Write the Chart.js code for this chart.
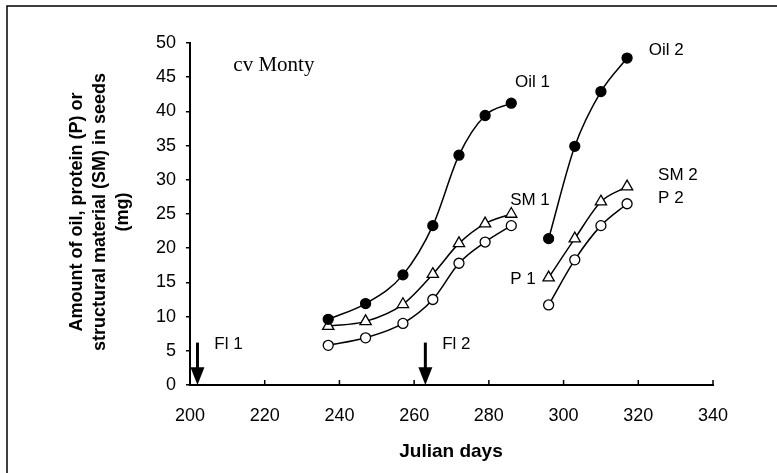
<!DOCTYPE html>
<html>
<head>
<meta charset="utf-8">
<script src="https://cdn.jsdelivr.net/npm/chart.js@4"></script>
<style>
  body { margin: 0; background: #fff; }
</style>
</head>
<body>
<canvas id="seedChart" width="777" height="473"></canvas>
<script>
// first sowing / second sowing sample days
const days1 = [237, 247, 257, 265, 272, 279, 286]
const oil1 = [9.6, 11.9, 16.1, 23.3, 33.6, 39.4, 41.2]
const sm1 = [8.6, 9.3, 11.8, 16.2, 20.7, 23.6, 25.0]
const p1 = [5.8, 6.9, 9.0, 12.5, 17.8, 20.9, 23.3]

const days2 = [296, 303, 310, 317]
const oil2 = [21.4, 34.9, 42.9, 47.8]
const sm2 = [15.7, 21.4, 26.8, 29.0]
const p2 = [11.7, 18.3, 23.3, 26.5]

const xTicks = [200, 220, 240, 260, 280, 300, 320, 340]
const yTicks = [0, 5, 10, 15, 20, 25, 30, 35, 40, 45, 50]

// flowering dates (arrows)
const flowerNames = ["Fl 1", "Fl 2"]
const flowerDays = [202, 263]

// series labels, placed in data units
const labelTexts = ["Oil 1", "Oil 2", "SM 1", "SM 2", "P 2", "P 1"]
const labelX = [287, 322.8, 285.7, 325.3, 325.3, 285.7]
const labelY = [44.2, 49.0, 27.0, 30.7, 27.3, 15.4]

function pts(xs, ys) {
    return xs.map((x, i) => ({ x: x, y: ys[i] }))
}

function series(data, kind) {
    const filled = kind === "oil"
    return {
        data: data,
        borderColor: "#000",
        borderWidth: 1.5,
        cubicInterpolationMode: "monotone",
        pointStyle: kind === "sm" ? "triangle" : "circle",
        pointRadius: kind === "sm" ? 6.5 : 5,
        pointBorderWidth: 1.3,
        pointBorderColor: "#000",
        pointBackgroundColor: filled ? "#000" : "#fff",
        fill: false
    }
}

const extras = {
    id: "extras",
    beforeDraw(chart) {
        const c = chart.ctx
        c.save()
        c.fillStyle = "#fff"
        c.fillRect(0, 0, chart.width, chart.height)
        // frame (only top and left show in the picture)
        c.strokeStyle = "#000"
        c.lineWidth = 1.5
        c.beginPath()
        c.moveTo(7, 473)
        c.lineTo(7, 6)
        c.lineTo(777, 6)
        c.stroke()
        c.restore()
    },
    afterDraw(chart) {
        const c = chart.ctx
        const xs = chart.scales.x
        const ys = chart.scales.y
        c.save()
        c.fillStyle = "#000"
        c.strokeStyle = "#000"

        // inward ticks on x axis
        c.lineWidth = 1.5
        xTicks.forEach(v => {
            const px = xs.getPixelForValue(v)
            c.beginPath()
            c.moveTo(px, ys.bottom)
            c.lineTo(px, ys.bottom - 5)
            c.stroke()
        })

        // arrows
        flowerDays.forEach(d => {
            const px = xs.getPixelForValue(d)
            const top = ys.getPixelForValue(6.2)
            const headTop = ys.getPixelForValue(2.6)
            const tip = ys.getPixelForValue(0)
            c.lineWidth = 3
            c.beginPath()
            c.moveTo(px, top)
            c.lineTo(px, headTop + 2)
            c.stroke()
            c.beginPath()
            c.moveTo(px - 7, headTop)
            c.lineTo(px + 7, headTop)
            c.lineTo(px, tip)
            c.closePath()
            c.fill()
        })

        c.font = "17px 'Liberation Sans', Arial, sans-serif"
        c.textBaseline = "middle"
        c.textAlign = "left"
        labelTexts.forEach((t, i) => {
            c.fillText(t, xs.getPixelForValue(labelX[i]), ys.getPixelForValue(labelY[i]))
        })
        flowerNames.forEach((t, i) => {
            c.fillText(t, xs.getPixelForValue(flowerDays[i] + 4.5), ys.getPixelForValue(6.0))
        })

        c.font = "21px 'Liberation Serif', 'Times New Roman', serif"
        c.fillText("cv Monty", xs.getPixelForValue(211.6), ys.getPixelForValue(46.7))

        // axis titles
        c.font = "bold 19px 'Liberation Sans', Arial, sans-serif"
        c.textAlign = "center"
        c.fillText("Julian days", 451, 452)
        c.font = "bold 18px 'Liberation Sans', Arial, sans-serif"
        c.translate(100, 212)
        c.rotate(-Math.PI / 2)
        c.fillText("Amount of oil, protein (P) or", 0, -23)
        c.fillText("structural material (SM) in seeds", 0, 0)
        c.fillText("(mg)", 0, 23)
        c.restore()
    }
}

new Chart("seedChart", {
    type: "line",
    data: {
        datasets: [
            series(pts(days1, oil1), "oil"),
            series(pts(days1, sm1), "sm"),
            series(pts(days1, p1), "p"),
            series(pts(days2, oil2), "oil"),
            series(pts(days2, sm2), "sm"),
            series(pts(days2, p2), "p")
        ]
    },
    options: {
        responsive: false,
        animation: false,
        layout: { padding: { left: 0, right: 64, top: 43, bottom: 0 } },
        plugins: {
            legend: { display: false },
            tooltip: { enabled: false }
        },
        scales: {
            x: {
                type: "linear",
                min: 200,
                max: 340,
                afterFit: s => { s.height = 88 },
                afterBuildTicks: s => { s.ticks = xTicks.map(v => ({ value: v })) },
                grid: { display: true, drawOnChartArea: false, drawTicks: false },
                border: { display: true, color: "#000", width: 2 },
                ticks: {
                    color: "#000",
                    padding: 20,
                    maxRotation: 0,
                    font: { family: "'Liberation Sans', Arial, sans-serif", size: 18 }
                }
            },
            y: {
                min: 0,
                max: 50,
                afterFit: s => { s.width = 190 },
                afterBuildTicks: s => { s.ticks = yTicks.map(v => ({ value: v })) },
                grid: { display: true, drawOnChartArea: false, drawTicks: true, tickLength: 4, color: "#000", lineWidth: 1.5 },
                border: { display: true, color: "#000", width: 2 },
                ticks: {
                    color: "#000",
                    padding: 10,
                    font: { family: "'Liberation Sans', Arial, sans-serif", size: 18 }
                }
            }
        }
    },
    plugins: [extras]
})
</script>
</body>
</html>
